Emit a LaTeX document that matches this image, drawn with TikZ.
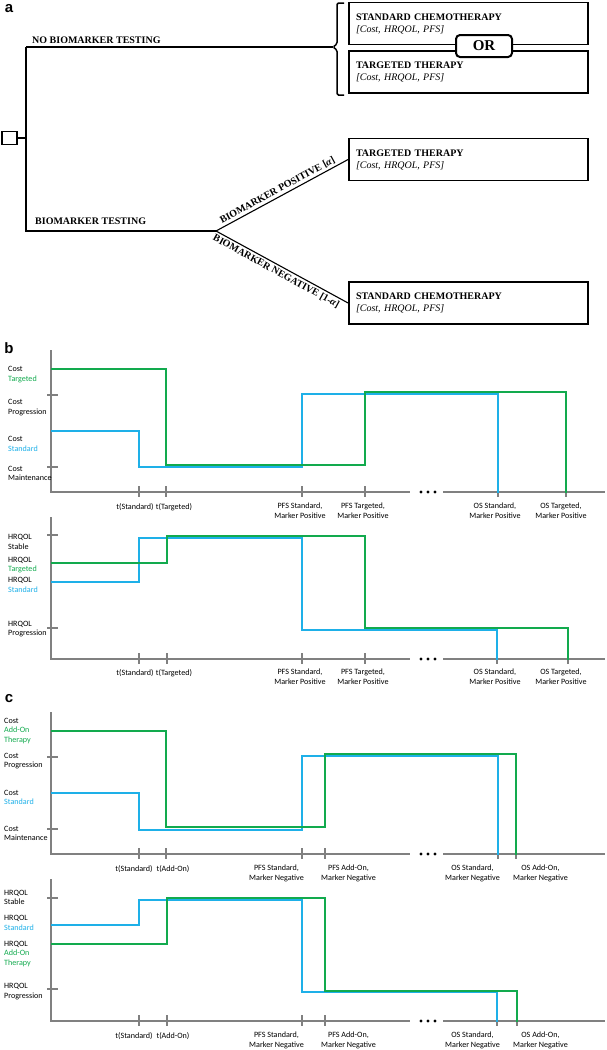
\documentclass[tikz,border=0pt]{standalone}
\usepackage{fontspec}
\setmainfont{Liberation Serif}
\newfontfamily\chartfont{Carlito}
\newfontfamily\panelfont{Liberation Sans}
\usepackage{xcolor}
\usetikzlibrary{positioning}

\definecolor{stdblue}{RGB}{30,176,232}
\definecolor{tgtgreen}{RGB}{18,170,78}
\definecolor{axisgray}{RGB}{128,128,128}

\tikzset{
	tree/.style={line width=1.1pt},
	outbox/.style={draw, line width=1.8pt, minimum height=42pt, text width=225pt, inner xsep=7pt, align=left, font=\fontsize{10}{12}\selectfont},
	orbox/.style={draw, fill=white, line width=2pt, rounded corners=4pt, minimum width=56pt, minimum height=22pt, inner sep=0pt, font=\bfseries\fontsize{15}{15}\selectfont},
	decbox/.style={draw, line width=1.8pt, minimum width=15pt, minimum height=13pt, inner sep=0pt},
	treelbl/.style={font=\bfseries\fontsize{10}{12}\selectfont, inner sep=0pt},
	branchlbl/.style={font=\bfseries\fontsize{10}{12}\selectfont, inner sep=2pt},
	panel/.style={font=\panelfont\bfseries\fontsize{15}{15}\selectfont, inner sep=0pt},
	axis/.style={draw=axisgray, line width=1.3pt},
	stdline/.style={draw=stdblue, line width=1.8pt},
	tgtline/.style={draw=tgtgreen, line width=1.8pt},
	ylbl/.style={font=\chartfont\fontsize{8.1}{9.5}\selectfont, align=left, anchor=west, inner sep=0pt},
	xlbl/.style={font=\chartfont\fontsize{8.1}{9.5}\selectfont, align=center, anchor=north, inner sep=0pt}
}

\begin{document}
\begin{tikzpicture}[x=1pt, y=-1pt]
	\useasboundingbox (0,0) rectangle (607,1050);

	% panel a: decision tree
	\node[panel] (pa) at (9,9) {a};
	\node[decbox] (choice) at (9.5,138) {};
	\coordinate (fork) at (26,138);
	\coordinate (notest) at (26,47);
	\coordinate (test) at (26,231);
	\coordinate (split) at (216,231);
	\coordinate (bracetip) at (333,47);
	\draw[tree] (choice) -- (fork);
	\draw[tree] (notest) -- (test) -- (split);
	\draw[tree] (notest) -- (bracetip);
	\node[treelbl, anchor=west] (nolbl) at (32,40) {NO BIOMARKER TESTING};
	\node[treelbl, anchor=west] (yeslbl) at (35,221) {BIOMARKER TESTING};
	\draw[line width=1.5pt, rounded corners=1.5pt] (344,3) -- (337,3) -- (337,44) -- (bracetip) -- (337,50) -- (337,95) -- (344,95);

	\node[outbox] (chemo) at (468.5,23.5) {\textbf{STANDARD CHEMOTHERAPY}\\\textit{[Cost, HRQOL, PFS]}};
	\node[outbox] (tgt) at (468.5,72) {\textbf{TARGETED THERAPY}\\\textit{[Cost, HRQOL, PFS]}};
	\node[orbox] (or) at (484,46) {OR};
	\node[outbox] (tgtpos) at (468.5,159.5) {\textbf{TARGETED THERAPY}\\\textit{[Cost, HRQOL, PFS]}};
	\node[outbox] (chemoneg) at (468.5,303) {\textbf{STANDARD CHEMOTHERAPY}\\\textit{[Cost, HRQOL, PFS]}};

	\draw[tree] (split) -- (tgtpos.west) node[branchlbl, sloped, above, pos=0.49] (poslbl) {BIOMARKER POSITIVE [\textit{α}]};
	\draw[tree] (split) -- (chemoneg.west) node[branchlbl, sloped, below, pos=0.48] (neglbl) {BIOMARKER NEGATIVE [1-\textit{α}]};

	% panel b, cost
	\node[panel] (pb) at (9,348) {b};
	\draw[axis] (51,350) -- (51,492) -- (410,492);
	\draw[axis] (443,492) -- (605,492);
	\foreach \y in {395,467} \draw[axis] (47,\y) -- (58,\y);
	\foreach \t in {139,166,302,365,498,566} \draw[axis] (\t,486) -- (\t,497);
	\foreach \d in {-7,0,7} \fill (428+\d,492) circle (1.7pt);
	\draw[stdline] (51,431) -- (139,431) -- (139,467) -- (302,467) -- (302,394) -- (498,394) -- (498,493);
	\draw[tgtline] (51,369) -- (166,369) -- (166,465) -- (365,465) -- (365,392) -- (566,392) -- (566,493);
	\node[ylbl] (bcT) at (8,374.5) {Cost\\\textcolor{tgtgreen}{Targeted}};
	\node[ylbl] (bcP) at (8,407.5) {Cost\\Progression};
	\node[ylbl] (bcS) at (8,444) {Cost\\\textcolor{stdblue}{Standard}};
	\node[ylbl] (bcM) at (8,473.5) {Cost\\Maintenance};
	\node[xlbl] (btS) at (135,503) {t(Standard)};
	\node[xlbl] (btT) at (174,503) {t(Targeted)};
	\node[xlbl] (bpS) at (300,503) {PFS Standard,\\Marker Positive};
	\node[xlbl] (bpT) at (363,503) {PFS Targeted,\\Marker Positive};
	\node[xlbl] (boS) at (495,503) {OS Standard,\\Marker Positive};
	\node[xlbl] (boT) at (561,503) {OS Targeted,\\Marker Positive};

	% panel b, HRQOL
	\draw[axis] (51,517) -- (51,659) -- (410,659);
	\draw[axis] (443,659) -- (605,659);
	\foreach \y in {535,628} \draw[axis] (47,\y) -- (58,\y);
	\foreach \t in {139,167,302,365,497,568} \draw[axis] (\t,653) -- (\t,664);
	\foreach \d in {-7,0,7} \fill (428+\d,659) circle (1.7pt);
	\draw[stdline] (51,582) -- (139,582) -- (139,538) -- (302,538) -- (302,630) -- (497,630) -- (497,660);
	\draw[tgtline] (51,563) -- (167,563) -- (167,536) -- (365,536) -- (365,628) -- (568,628) -- (568,660);
	\node[ylbl] (bqS) at (8,542) {HRQOL\\Stable};
	\node[ylbl] (bqT) at (8,565) {HRQOL\\\textcolor{tgtgreen}{Targeted}};
	\node[ylbl] (bqD) at (8,585) {HRQOL\\\textcolor{stdblue}{Standard}};
	\node[ylbl] (bqP) at (8,629) {HRQOL\\Progression};
	\node[xlbl] (btS2) at (135,669) {t(Standard)};
	\node[xlbl] (btT2) at (174,669) {t(Targeted)};
	\node[xlbl] (bpS2) at (300,669) {PFS Standard,\\Marker Positive};
	\node[xlbl] (bpT2) at (363,669) {PFS Targeted,\\Marker Positive};
	\node[xlbl] (boS2) at (495,669) {OS Standard,\\Marker Positive};
	\node[xlbl] (boT2) at (561,669) {OS Targeted,\\Marker Positive};

	% panel c, cost
	\node[panel] (pc) at (9,699) {c};
	\draw[axis] (51,712) -- (51,854) -- (410,854);
	\draw[axis] (443,854) -- (605,854);
	\foreach \y in {757,829} \draw[axis] (47,\y) -- (58,\y);
	\foreach \t in {139,166,302,325,498,516} \draw[axis] (\t,848) -- (\t,859);
	\foreach \d in {-7,0,7} \fill (428+\d,854) circle (1.7pt);
	\draw[stdline] (51,793) -- (139,793) -- (139,830) -- (302,830) -- (302,756) -- (498,756) -- (498,855);
	\draw[tgtline] (51,731) -- (166,731) -- (166,827) -- (325,827) -- (325,754) -- (516,754) -- (516,855);
	\node[ylbl] (ccT) at (4,731) {Cost\\\textcolor{tgtgreen}{Add-On}\\\textcolor{tgtgreen}{Therapy}};
	\node[ylbl] (ccP) at (4,761) {Cost\\Progression};
	\node[ylbl] (ccS) at (4,797.5) {Cost\\\textcolor{stdblue}{Standard}};
	\node[ylbl] (ccM) at (4,833.5) {Cost\\Maintenance};
	\node[xlbl] (ctS) at (134,865) {t(Standard)};
	\node[xlbl] (ctA) at (173,865) {t(Add-On)};
	\node[xlbl, anchor=north east] (cpS) at (304,865) {PFS Standard,\\Marker Negative};
	\node[xlbl, anchor=north west] (cpA) at (321,865) {PFS Add-On,\\Marker Negative};
	\node[xlbl, anchor=north east] (coS) at (500,865) {OS Standard,\\Marker Negative};
	\node[xlbl, anchor=north west] (coA) at (513,865) {OS Add-On,\\Marker Negative};

	% panel c, HRQOL
	\draw[axis] (51,879) -- (51,1021) -- (410,1021);
	\draw[axis] (443,1021) -- (605,1021);
	\foreach \y in {898,989} \draw[axis] (47,\y) -- (58,\y);
	\foreach \t in {139,167,302,325,497,517} \draw[axis] (\t,1015) -- (\t,1026);
	\foreach \d in {-7,0,7} \fill (428+\d,1021) circle (1.7pt);
	\draw[stdline] (51,925) -- (139,925) -- (139,900) -- (302,900) -- (302,992) -- (497,992) -- (497,1022);
	\draw[tgtline] (51,944) -- (167,944) -- (167,898) -- (325,898) -- (325,991) -- (517,991) -- (517,1022);
	\node[ylbl] (cqS) at (4,897.5) {HRQOL\\Stable};
	\node[ylbl] (cqD) at (4,923) {HRQOL\\\textcolor{stdblue}{Standard}};
	\node[ylbl] (cqA) at (4,954) {HRQOL\\\textcolor{tgtgreen}{Add-On}\\\textcolor{tgtgreen}{Therapy}};
	\node[ylbl] (cqP) at (4,991.5) {HRQOL\\Progression};
	\node[xlbl] (ctS2) at (134,1032) {t(Standard)};
	\node[xlbl] (ctA2) at (173,1032) {t(Add-On)};
	\node[xlbl, anchor=north east] (cpS2) at (304,1032) {PFS Standard,\\Marker Negative};
	\node[xlbl, anchor=north west] (cpA2) at (321,1032) {PFS Add-On,\\Marker Negative};
	\node[xlbl, anchor=north east] (coS2) at (500,1032) {OS Standard,\\Marker Negative};
	\node[xlbl, anchor=north west] (coA2) at (513,1032) {OS Add-On,\\Marker Negative};
\end{tikzpicture}
\end{document}
